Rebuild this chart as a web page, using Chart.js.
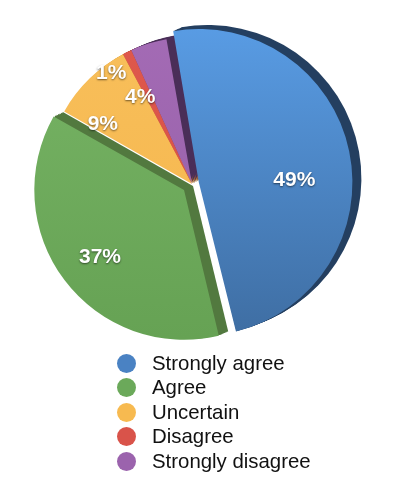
<!DOCTYPE html>
<html>
<head>
<meta charset="utf-8">
<script src="https://cdn.jsdelivr.net/npm/chart.js@4.4.1/dist/chart.umd.min.js"></script>
<style>
  html, body { margin: 0; padding: 0; background: #fff; }
  #wrap { position: relative; width: 405px; height: 498px; }
  #legend {
    position: absolute; left: 117px; top: 351px;
    font-family: "Liberation Sans", Arial, Helvetica, sans-serif;
    font-size: 20.4px; color: #111;
  }
  .row { display: flex; align-items: center; height: 24.5px; }
  .dot { width: 19px; height: 19px; border-radius: 50%; margin-right: 16px; }
</style>
</head>
<body>
<div id="wrap">
  <canvas id="js-chart-agreement" width="405" height="498"></canvas>
  <div id="legend"></div>
</div>
<script>
// Survey answers (percent of respondents)
const answers = ["Strongly agree", "Agree", "Uncertain", "Disagree", "Strongly disagree"];
const shares = [49, 37, 9, 1, 4];

// face colours (top / bottom of gradient), side colour, legend colour
const topColors = ["#5ba0ea", "#78b566", "#f8c05c", "#e05a4e", "#a56cb6"];
const bottomColors = ["#3c699c", "#64a052", "#f5b44a", "#d24b42", "#925da5"];
const sideColors = ["#243f60", "#52793f", "#c98f33", "#9e3029", "#4a2e58"];
const legendColors = ["#4a82c3", "#6ba95a", "#f7ba50", "#d9534a", "#9b63ad"];
const sliceOffsets = [28, 40, 0, 0, 0];
// label placement: fraction of radius, and turn (degrees) from the slice middle
const labelRadius = [0.65, 0.73, 0.73, 0.93, 0.69];
const labelTurn = [10.5, -1.5, -12, -10, -13.5];

const depthX = 9, depthY = -4;

function faceGradient(context) {
    const chart = context.chart;
    const area = chart.chartArea;
    const i = context.dataIndex;
    if (!area) return legendColors[i];
    const g = chart.ctx.createLinearGradient(0, area.top, 0, area.bottom);
    g.addColorStop(0, topColors[i]);
    g.addColorStop(1, bottomColors[i]);
    return g;
}

// same shift that ArcElement.draw applies for an exploded slice
function sliceCentre(arc) {
    const p = arc.getProps(["x", "y", "startAngle", "endAngle", "outerRadius", "circumference"], true);
    const mid = (p.startAngle + p.endAngle) / 2;
    const t = (arc.options.offset || 0) / 4;
    const fix = 1 - Math.sin(Math.min(Math.PI, p.circumference || 0));
    return {
        p, mid,
        r: p.outerRadius + t * fix,
        cx: p.x + Math.cos(mid) * t,
        cy: p.y + Math.sin(mid) * t
    };
}

// dark extruded side drawn behind every slice
const pieDepth = {
    id: "pieDepth",
    beforeDatasetsDraw(chart) {
        const ctx = chart.ctx;
        const arcs = chart.getDatasetMeta(0).data;
        ctx.save();
        arcs.forEach((arc, i) => {
            const { p, r, cx, cy } = sliceCentre(arc);
            ctx.fillStyle = sideColors[i];
            for (let s = 1; s <= 6; s++) {
                const k = s / 6;
                ctx.beginPath();
                ctx.moveTo(cx + depthX * k, cy + depthY * k);
                ctx.arc(cx + depthX * k, cy + depthY * k, r, p.startAngle, p.endAngle);
                ctx.closePath();
                ctx.fill();
            }
        });
        ctx.restore();
    }
};

// percentage labels on the slices
const sliceLabels = {
    id: "sliceLabels",
    afterDatasetsDraw(chart) {
        const ctx = chart.ctx;
        const arcs = chart.getDatasetMeta(0).data;
        const values = chart.data.datasets[0].data;
        ctx.save();
        ctx.font = "bold 21px 'Liberation Sans', Arial, sans-serif";
        ctx.textAlign = "center";
        ctx.textBaseline = "middle";
        ctx.fillStyle = "#fff";
        ctx.shadowColor = "rgba(0,0,0,0.55)";
        ctx.shadowBlur = 2;
        ctx.shadowOffsetX = 0;
        ctx.shadowOffsetY = 1;
        arcs.forEach((arc, i) => {
            const { p, mid, cx, cy } = sliceCentre(arc);
            const a = mid + labelTurn[i] * Math.PI / 180;
            const dist = p.outerRadius * labelRadius[i];
            ctx.fillText(values[i] + "%", cx + Math.cos(a) * dist, cy + Math.sin(a) * dist);
        });
        ctx.restore();
    }
};

document.addEventListener("DOMContentLoaded", function() {
    const element = document.getElementById("js-chart-agreement");
    const chart = new Chart(element, {
        type: "pie",
        data: {
            labels: answers,
            datasets: [{
                data: shares,
                backgroundColor: faceGradient,
                borderWidth: 0,
                offset: sliceOffsets
            }]
        },
        options: {
            responsive: false,
            animation: false,
            rotation: -10,
            radius: 147,
            layout: { padding: { left: 0, right: 21, top: 0, bottom: 130 } },
            plugins: {
                legend: { display: false },
                tooltip: { enabled: false }
            }
        },
        plugins: [pieDepth, sliceLabels]
    });

    // vertical legend under the pie
    const legend = document.getElementById("legend");
    chart.data.labels.forEach((label, i) => {
        const row = document.createElement("div");
        row.className = "row";
        const dot = document.createElement("span");
        dot.className = "dot";
        dot.style.background = legendColors[i];
        const text = document.createElement("span");
        text.textContent = label;
        row.appendChild(dot);
        row.appendChild(text);
        legend.appendChild(row);
    });
});
</script>
</body>
</html>
